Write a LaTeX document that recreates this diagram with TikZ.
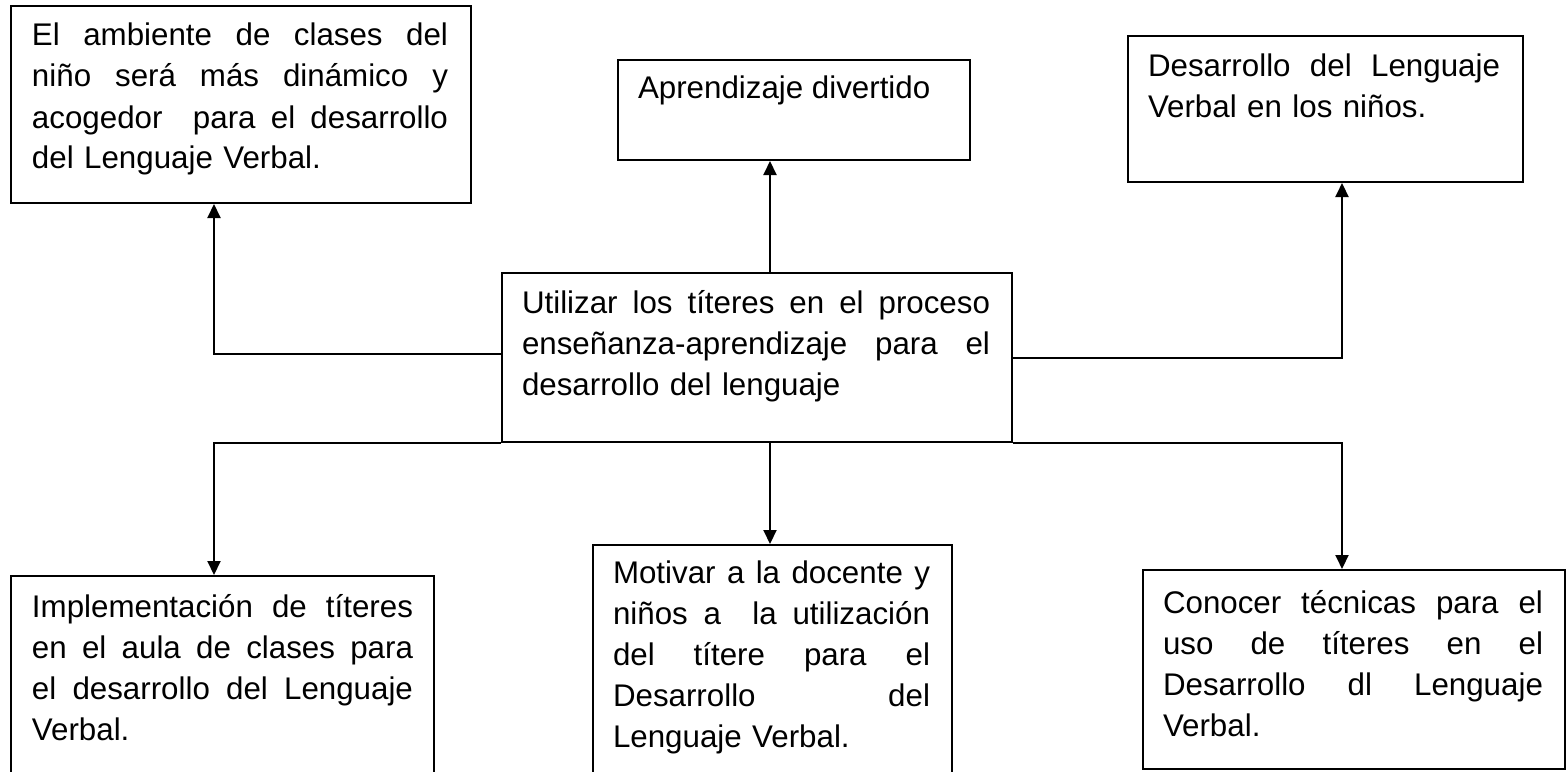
\documentclass[tikz,border=0pt]{standalone}
\usepackage{fontspec}
\setmainfont{Liberation Sans}
\usetikzlibrary{arrows.meta}
\newlength{\tw}
\newcommand{\gp}{\hskip 0.278em plus 1fil\relax}
\newcommand{\jline}[1]{\noindent\hbox to \tw{#1}\par}
\newcommand{\lline}[1]{\noindent\hbox to \tw{#1\hfil}\par}
\newcommand{\fstrut}{\rule{0pt}{15pt}}
\tikzset{
  box/.style={draw, line width=1pt, rectangle, inner sep=0pt, anchor=north west},
  txt/.style={anchor=north west, inner sep=0pt, outer sep=0pt,
              font=\fontsize{15.65pt}{20.5pt}\selectfont},
  con/.style={line width=1pt, -{Triangle[length=7pt,width=6.5pt]}}
}
\begin{document}
\begin{tikzpicture}[x=0.5pt, y=-0.5pt]
\useasboundingbox (0,0) rectangle (1568,771);
\clip (0,0) rectangle (1568,771);
\fill[white] (0,0) rectangle (1568,771);

% boxes
\node[box, minimum width=230pt, minimum height=98.5pt] (tl) at (10,5) {};
\node[box, minimum width=176pt, minimum height=50pt] (tm) at (617,59) {};
\node[box, minimum width=197.5pt, minimum height=73pt] (tr) at (1127,35) {};
\node[box, minimum width=255pt, minimum height=84.5pt] (c) at (501,272) {};
\node[box, minimum width=211.5pt, minimum height=150pt] (bl) at (10,575) {};
\node[box, minimum width=179.5pt, minimum height=150pt] (bm) at (592,544) {};
\node[box, minimum width=211pt, minimum height=99.5pt] (br) at (1142,569) {};

% texts
\node[txt, text width=208pt] (tlt) at ([shift={(11pt,-5.5pt)}]tl.north west) {%
\setlength{\tw}{208pt}%
\jline{\fstrut El\gp ambiente\gp de\gp clases\gp del}%
\jline{niño\gp será\gp más\gp dinámico\gp y}%
\jline{acogedor\gp\gp para\gp el\gp desarrollo}%
\lline{del Lenguaje Verbal.}};
\node[txt] (tmt) at ([shift={(10.5pt,-4.5pt)}]tm.north west) {\fstrut Aprendizaje divertido};
\node[txt, text width=176pt] (trt) at ([shift={(10.5pt,-5.5pt)}]tr.north west) {%
\setlength{\tw}{176pt}%
\jline{\fstrut Desarrollo\gp del\gp Lenguaje}%
\lline{Verbal en los niños.}};
\node[txt, text width=234pt] (ct) at ([shift={(10.5pt,-5.5pt)}]c.north west) {%
\setlength{\tw}{234pt}%
\jline{\fstrut Utilizar\gp los\gp títeres\gp en\gp el\gp proceso}%
\jline{enseñanza-aprendizaje\gp\gp para\gp\gp el}%
\lline{desarrollo del lenguaje}};
\node[txt, text width=190.5pt] (blt) at ([shift={(11pt,-6pt)}]bl.north west) {%
\setlength{\tw}{190.5pt}%
\jline{\fstrut Implementación\gp de\gp títeres}%
\jline{en\gp el\gp aula\gp de\gp clases\gp para}%
\jline{el\gp desarrollo\gp del\gp Lenguaje}%
\lline{Verbal.}};
\node[txt, text width=158.5pt] (bmt) at ([shift={(10.5pt,-4.5pt)}]bm.north west) {%
\setlength{\tw}{158.5pt}%
\jline{\fstrut Motivar\gp a\gp la\gp docente\gp y}%
\jline{niños\gp a\gp\gp la\gp utilización}%
\jline{del\gp títere\gp para\gp el}%
\jline{Desarrollo\gp del}%
\lline{Lenguaje Verbal.}};
\node[txt, text width=190pt] (brt) at ([shift={(10.5pt,-7pt)}]br.north west) {%
\setlength{\tw}{190pt}%
\jline{\fstrut Conocer\gp técnicas\gp para\gp el}%
\jline{uso\gp de\gp títeres\gp en\gp el}%
\jline{Desarrollo\gp dl\gp Lenguaje}%
\lline{Verbal.}};

% helper coordinates
\coordinate (yl) at (0,354);
\coordinate (yr) at (0,358);
\coordinate (xl) at (214,0);
\coordinate (xm) at (770,0);
\coordinate (xr) at (1342,0);

% connectors
\draw[con] (c.west |- yl) -| (tl.south -| xl);
\draw[con] (c.east |- yr) -| (tr.south -| xr);
\draw[con] (c.north -| xm) -- (tm.south -| xm);
\draw[con] (c.south west) -| (bl.north -| xl);
\draw[con] (c.south -| xm) -- (bm.north -| xm);
\draw[con] (c.south east) -| (br.north -| xr);
\end{tikzpicture}
\end{document}
